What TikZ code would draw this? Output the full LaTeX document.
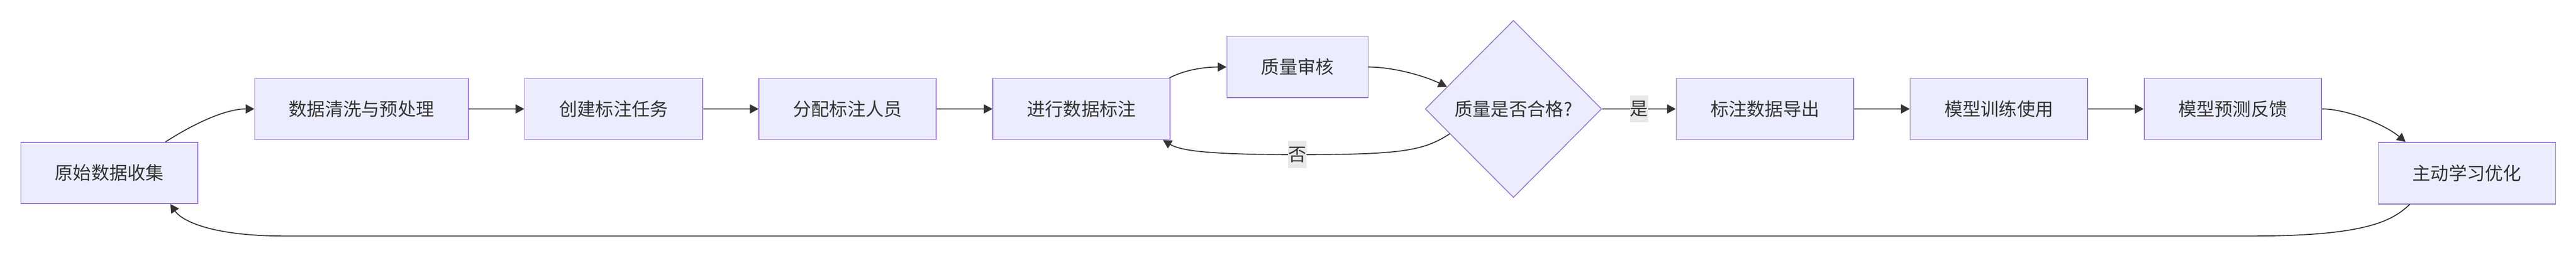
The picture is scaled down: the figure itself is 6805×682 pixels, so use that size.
\documentclass[tikz,border=0pt]{standalone}
\usepackage{fontspec}
\setmainfont{Noto Sans CJK SC}
\usetikzlibrary{arrows.meta,shapes.geometric,calc}
\definecolor{nodefill}{HTML}{ECECFF}
\definecolor{nodeline}{HTML}{9370DB}
\definecolor{ink}{HTML}{333333}
\definecolor{lblbg}{HTML}{E8E8E8}
\tikzset{
  box/.style={draw=nodeline, fill=nodefill, line width=2.2pt, inner sep=0pt,
    minimum height=162pt, text=ink, font=\fontsize{48pt}{72pt}\selectfont},
  decision/.style={diamond, aspect=1, draw=nodeline, fill=nodefill, line width=2.2pt,
    inner sep=0pt, minimum width=466pt, minimum height=469pt, text=ink,
    font=\fontsize{48pt}{72pt}\selectfont},
  edge/.style={draw=ink, line width=2.6pt, -{Triangle[length=23pt,width=24pt]}},
  lbl/.style={fill=lblbg, inner sep=0pt, minimum width=48pt, minimum height=72pt,
    text=ink, font=\fontsize{48pt}{72pt}\selectfont}
}
\begin{document}
\begin{tikzpicture}[x=1pt,y=-1pt]
\useasboundingbox (0,0) rectangle (6805,682);
% nodes
\node[box, minimum width=468pt] (A) at (289,458) {原始数据收集};
\node[box, minimum width=564pt] (B) at (955,288.5) {数据清洗与预处理};
\node[box, minimum width=470pt] (C) at (1621,288.5) {创建标注任务};
\node[box, minimum width=468pt] (D) at (2239,288.5) {分配标注人员};
\node[box, minimum width=468pt] (E) at (2857,288.5) {进行数据标注};
\node[box, minimum width=373pt, minimum height=163pt] (F) at (3427.5,177.5) {质量审核};
\node[decision] (G) at (3998,288.5) {质量是否合格?};
\node[box, minimum width=469pt] (H) at (4662.5,288.5) {标注数据导出};
\node[box, minimum width=469pt] (I) at (5280.5,288.5) {模型训练使用};
\node[box, minimum width=469pt] (J) at (5898.5,288.5) {模型预测反馈};
\node[box, minimum width=468pt, minimum height=163pt] (K) at (6517,458.5) {主动学习优化};
% edges
\draw[edge] ($(A.north)+(148,0)$) .. controls (500,335) and (590,288.5) .. (B.west);
\draw[edge] (B.east) -- (C.west);
\draw[edge] (C.east) -- (D.west);
\draw[edge] (D.east) -- (E.west);
\draw[edge] ($(E.north east)+(-3,0)$) .. controls (3130,185) and (3180,177.5) .. (F.west);
\draw[edge] (F.east) .. controls (3680,177.5) and (3760,200) .. ($(G.west)!0.25!(G.north)$);
\draw[edge] ($(G.west)!0.28!(G.south)$) .. controls (3760,400) and (3700,409.5) .. (3427,409.5)
  node[lbl] (no) {否}
  .. controls (3200,409.5) and (3120,400) .. ($(E.south east)+(-20,0)$);
\draw[edge] (G.east) -- node[lbl] (yes) {是} (H.west);
\draw[edge] (H.east) -- (I.west);
\draw[edge] (I.east) -- (J.west);
\draw[edge] (J.east) .. controls (6200,288.5) and (6300,330) .. ($(K.north west)+(73,0)$);
\draw[edge] ($(K.south west)+(84,0)$) .. controls (6320,585) and (6250,625) .. (5950,625)
  -- (750,625) .. controls (560,625) and (480,585) .. ($(A.south west)+(396,0)$);
\end{tikzpicture}
\end{document}
